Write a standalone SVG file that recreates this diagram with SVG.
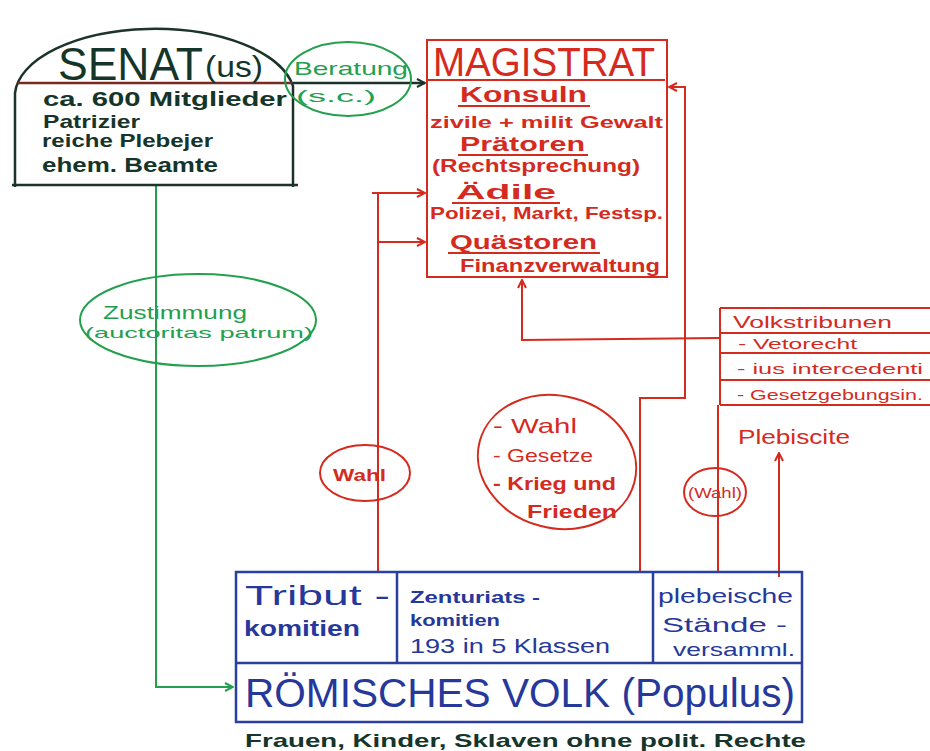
<svg xmlns="http://www.w3.org/2000/svg" width="930" height="751" viewBox="0 0 930 751">
<style>
.r{stroke:#d52a1e;fill:none;stroke-width:2}
.g{stroke:#23a04e;fill:none;stroke-width:2}
.k{stroke:#1b3328;fill:none;stroke-width:2.5}
.b{stroke:#2a3f9e;fill:none;stroke-width:2.5}
text{font-family:"Liberation Sans",Arial,sans-serif}
.rt{fill:#d52a1e}
.gt{fill:#23a04e}
.kt{fill:#15352a;font-weight:bold}
.bt{fill:#26389a}
.bold{font-weight:bold}
</style>
<defs>
<marker id="ar" markerWidth="10" markerHeight="10" refX="9" refY="5" orient="auto" markerUnits="userSpaceOnUse"><path d="M1,1 L9,5 L1,9" fill="none" stroke="#d52a1e" stroke-width="2"/></marker>
<marker id="ag" markerWidth="10" markerHeight="10" refX="9" refY="5" orient="auto" markerUnits="userSpaceOnUse"><path d="M1,1 L9,5 L1,9" fill="none" stroke="#23a04e" stroke-width="2"/></marker>
<marker id="ak" markerWidth="10" markerHeight="10" refX="9" refY="5" orient="auto" markerUnits="userSpaceOnUse"><path d="M1,1 L9,5 L1,9" fill="none" stroke="#1b3328" stroke-width="2"/></marker>
</defs>
<rect width="930" height="751" fill="#ffffff"/>

<g id="connectors">
  <!-- Senat -> Magistrat (Beratung) -->
  <path class="k" d="M293,83 L425,83" marker-end="url(#ak)" stroke-width="2"/>
  <!-- Senat -> Volk (Zustimmung) -->
  <path class="g" d="M156,186 L156,687 L233,687" marker-end="url(#ag)"/>
  <!-- Tributkomitien -> Magistrat -->
  <path class="r" d="M378,572 L378,193"/>
  <path class="r" d="M372,193 L425,193" marker-end="url(#ar)"/>
  <path class="r" d="M378,242 L425,242" marker-end="url(#ar)"/>
  <!-- Zenturiatskomitien -> Magistrat (right side) -->
  <path class="r" d="M640,573 L640,398 L685,398 L685,87 L669,87" marker-end="url(#ar)"/>
  <!-- Volkstribunen -> Magistrat bottom -->
  <path class="r" d="M720,338 L522,340 L522,280" marker-end="url(#ar)"/>
  <!-- plebeische Versammlung -> Volkstribunen -->
  <path class="r" d="M718,573 L718,405"/>
  <!-- plebeische Versammlung -> Plebiscite -->
  <path class="r" d="M779,577 L779,453" marker-end="url(#ar)"/>
</g>

<g id="senat">
  <path class="k" d="M15,187 L15,93 A140 68 0 0 1 293,86 L293,187"/>
  <path class="k" d="M12,185 L298,185"/>
  <path d="M18,83 L292,83" stroke="#7a2a22" stroke-width="2.5" fill="none"/>
  <text x="58" y="80" font-size="46" fill="#15352a" textLength="145" lengthAdjust="spacingAndGlyphs">SENAT</text>
  <text x="205" y="77" font-size="30" fill="#15352a" textLength="58" lengthAdjust="spacingAndGlyphs">(us)</text>
  <text class="kt" x="43" y="106" font-size="20" textLength="244" lengthAdjust="spacingAndGlyphs">ca. 600 Mitglieder</text>
  <text class="kt" x="43" y="128" font-size="19" textLength="97" lengthAdjust="spacingAndGlyphs">Patrizier</text>
  <text class="kt" x="42" y="147" font-size="19" textLength="171" lengthAdjust="spacingAndGlyphs">reiche Plebejer</text>
  <text class="kt" x="42" y="172" font-size="20" textLength="176" lengthAdjust="spacingAndGlyphs">ehem. Beamte</text>
</g>

<g id="beratung">
  <ellipse class="g" cx="348" cy="79" rx="63" ry="37"/>
  <text class="gt" x="294" y="75" font-size="19" textLength="114" lengthAdjust="spacingAndGlyphs">Beratung</text>
  <text class="gt" x="296" y="102" font-size="17" textLength="80" lengthAdjust="spacingAndGlyphs">(s.c.)</text>
</g>

<g id="magistrat">
  <rect class="r" x="427" y="40" width="240" height="237"/>
  <path class="r" d="M427,80 L665,80"/>
  <text class="rt" x="433" y="76" font-size="40" textLength="222" lengthAdjust="spacingAndGlyphs">MAGISTRAT</text>
  <text class="rt bold" x="460" y="102" font-size="22" textLength="127" lengthAdjust="spacingAndGlyphs">Konsuln</text>
  <path class="r" d="M458,106 L590,106"/>
  <text class="rt bold" x="430" y="128" font-size="17" textLength="233" lengthAdjust="spacingAndGlyphs">zivile + milit Gewalt</text>
  <text class="rt bold" x="460" y="151" font-size="21" textLength="125" lengthAdjust="spacingAndGlyphs">Prätoren</text>
  <path class="r" d="M458,155 L588,155"/>
  <text class="rt bold" x="432" y="172" font-size="19" textLength="208" lengthAdjust="spacingAndGlyphs">(Rechtsprechung)</text>
  <text class="rt bold" x="456" y="199" font-size="21" textLength="100" lengthAdjust="spacingAndGlyphs">Ädile</text>
  <path class="r" d="M452,203 L560,203"/>
  <text class="rt bold" x="430" y="219" font-size="17" textLength="233" lengthAdjust="spacingAndGlyphs">Polizei, Markt, Festsp.</text>
  <text class="rt bold" x="450" y="249" font-size="21" textLength="147" lengthAdjust="spacingAndGlyphs">Quästoren</text>
  <path class="r" d="M448,253 L600,253"/>
  <text class="rt bold" x="460" y="272" font-size="19" textLength="200" lengthAdjust="spacingAndGlyphs">Finanzverwaltung</text>
</g>

<g id="volkstribunen">
  <path class="r" d="M720,308 L930,308 M720,333 L930,333 M720,353 L930,353 M720,380 L930,380 M720,405 L930,405 M720,308 L720,405"/>
  <text class="rt" x="733" y="328" font-size="17" textLength="159" lengthAdjust="spacingAndGlyphs">Volkstribunen</text>
  <text class="rt" x="738" y="349" font-size="15" textLength="119" lengthAdjust="spacingAndGlyphs">- Vetorecht</text>
  <text class="rt" x="737" y="374" font-size="15" textLength="186" lengthAdjust="spacingAndGlyphs">- ius intercedenti</text>
  <text class="rt" x="737" y="400" font-size="15" textLength="186" lengthAdjust="spacingAndGlyphs">- Gesetzgebungsin.</text>
</g>

<g id="plebiscite">
  <text class="rt" x="738" y="444" font-size="20" textLength="112" lengthAdjust="spacingAndGlyphs">Plebiscite</text>
</g>

<g id="zustimmung">
  <ellipse class="g" cx="198" cy="320" rx="118" ry="46"/>
  <text class="gt" x="103" y="319" font-size="19" textLength="144" lengthAdjust="spacingAndGlyphs">Zustimmung</text>
  <text class="gt" x="85" y="338" font-size="15" textLength="228" lengthAdjust="spacingAndGlyphs">(auctoritas patrum)</text>
</g>

<g id="wahl-tribut">
  <ellipse class="r" cx="365" cy="473" rx="45" ry="28"/>
  <text class="rt bold" x="333" y="481" font-size="17" textLength="53" lengthAdjust="spacingAndGlyphs">Wahl</text>
</g>

<g id="wahl-zenturiat">
  <ellipse class="r" cx="557" cy="462" rx="80" ry="66" transform="rotate(15 557 462)"/>
  <text class="rt" x="493" y="433" font-size="21" textLength="84" lengthAdjust="spacingAndGlyphs">- Wahl</text>
  <text class="rt" x="493" y="462" font-size="19" textLength="100" lengthAdjust="spacingAndGlyphs">- Gesetze</text>
  <text class="rt bold" x="493" y="490" font-size="19" textLength="123" lengthAdjust="spacingAndGlyphs">- Krieg und</text>
  <text class="rt bold" x="527" y="518" font-size="19" textLength="90" lengthAdjust="spacingAndGlyphs">Frieden</text>
</g>

<g id="wahl-plebs">
  <ellipse class="r" cx="715" cy="492" rx="31" ry="24"/>
  <text class="rt" x="688" y="498" font-size="15" textLength="54" lengthAdjust="spacingAndGlyphs">(Wahl)</text>
</g>

<g id="volk">
  <rect class="b" x="236" y="572" width="566" height="150"/>
  <path class="b" d="M236,663 L802,663 M397,572 L397,663 M653,572 L653,663"/>
  <text class="bt" x="245" y="605" font-size="28" textLength="145" lengthAdjust="spacingAndGlyphs">Tribut -</text>
  <text class="bt bold" x="244" y="636" font-size="22" textLength="116" lengthAdjust="spacingAndGlyphs">komitien</text>
  <text class="bt bold" x="410" y="603" font-size="17" textLength="130" lengthAdjust="spacingAndGlyphs">Zenturiats -</text>
  <text class="bt bold" x="410" y="626" font-size="17" textLength="90" lengthAdjust="spacingAndGlyphs">komitien</text>
  <text class="bt" x="410" y="653" font-size="21" textLength="200" lengthAdjust="spacingAndGlyphs">193 in 5 Klassen</text>
  <text class="bt" x="658" y="603" font-size="20" textLength="135" lengthAdjust="spacingAndGlyphs">plebeische</text>
  <text class="bt" x="662" y="632" font-size="21" textLength="125" lengthAdjust="spacingAndGlyphs">Stände -</text>
  <text class="bt" x="673" y="656" font-size="19" textLength="122" lengthAdjust="spacingAndGlyphs">versamml.</text>
  <text class="bt" x="245" y="707" font-size="40" textLength="550" lengthAdjust="spacingAndGlyphs">RÖMISCHES VOLK (Populus)</text>
  <text class="kt" x="245" y="747" font-size="19" fill="#1a2a2a" textLength="561" lengthAdjust="spacingAndGlyphs">Frauen, Kinder, Sklaven ohne polit. Rechte</text>
</g>
</svg>
